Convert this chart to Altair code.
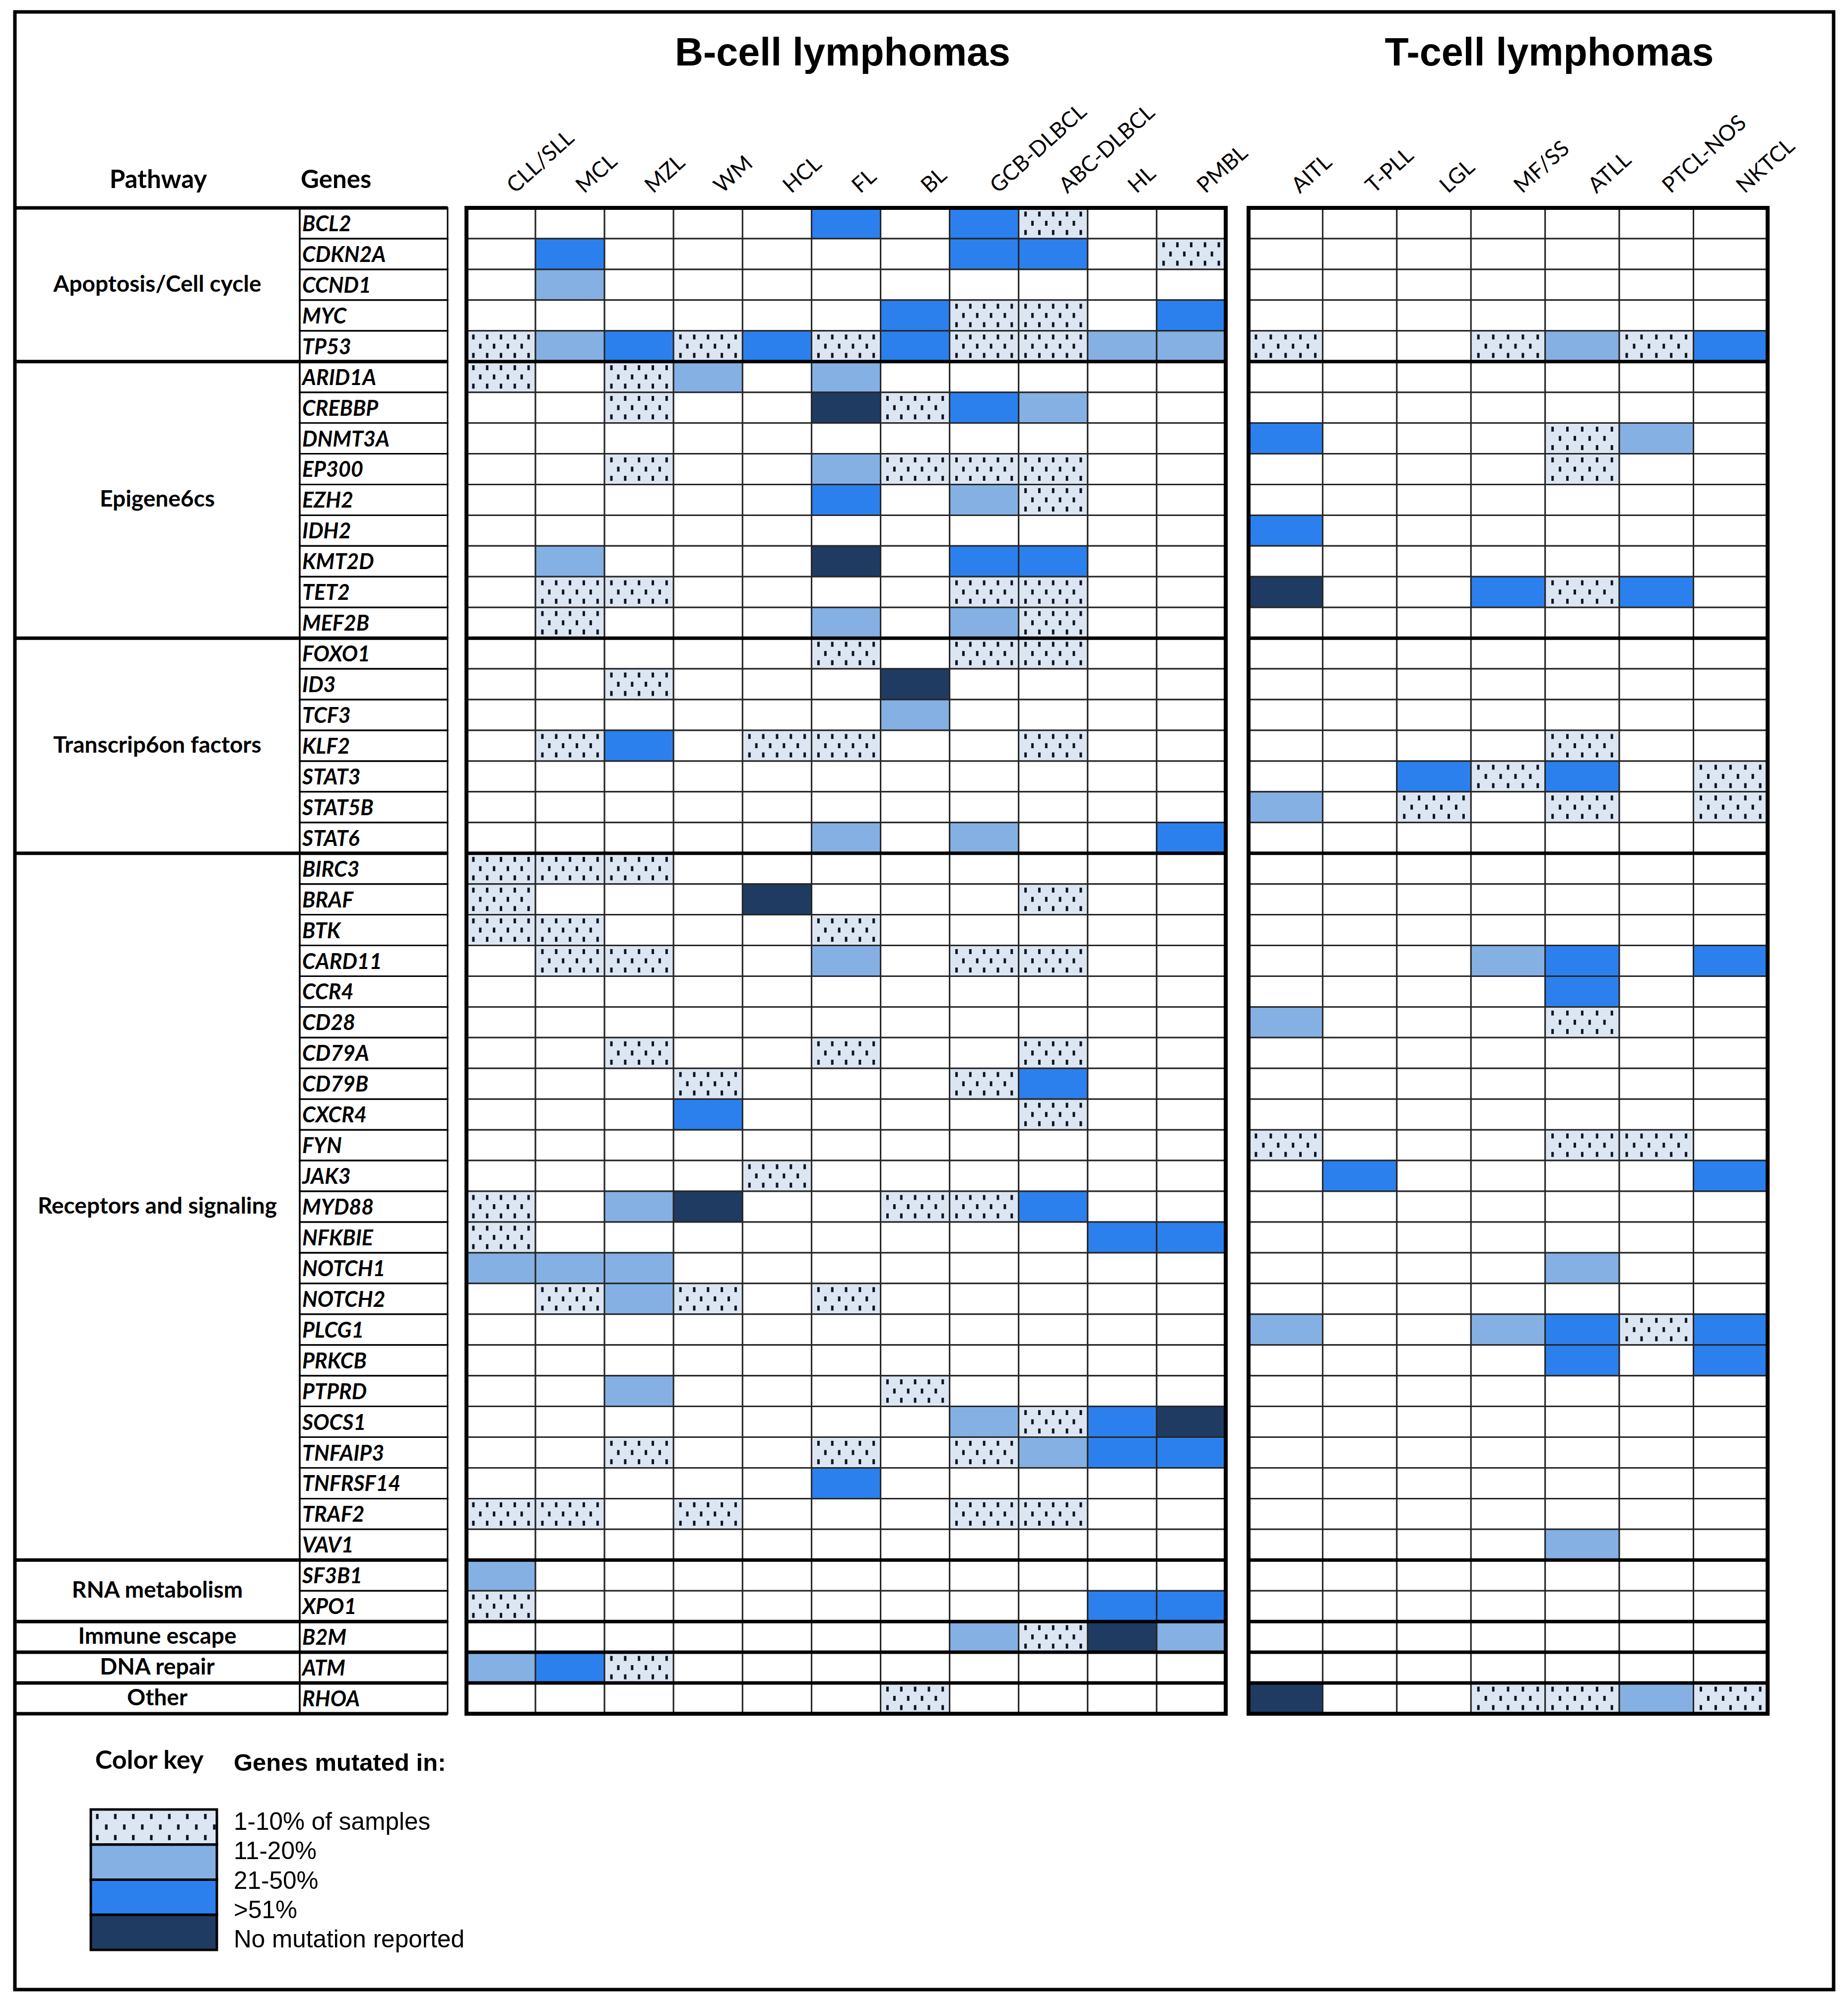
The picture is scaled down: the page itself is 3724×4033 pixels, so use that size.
import altair as alt
import pandas as pd

# ---------------- data ----------------
B_TYPES = ["CLL/SLL", "MCL", "MZL", "WM", "HCL", "FL", "BL", "GCB-DLBCL", "ABC-DLBCL", "HL", "PMBL"]
T_TYPES = ["AITL", "T-PLL", "LGL", "MF/SS", "ATLL", "PTCL-NOS", "NKTCL"]

PATHWAYS = ["Apoptosis/Cell cycle", "Epigene6cs", "Transcrip6on factors", "Receptors and signaling",
            "RNA metabolism", "Immune escape", "DNA repair", "Other"]
PATHWAY_SIZES = [5, 9, 7, 23, 2, 1, 1, 1]

GENES = ["BCL2", "CDKN2A", "CCND1", "MYC", "TP53",
         "ARID1A", "CREBBP", "DNMT3A", "EP300", "EZH2", "IDH2", "KMT2D", "TET2", "MEF2B",
         "FOXO1", "ID3", "TCF3", "KLF2", "STAT3", "STAT5B", "STAT6",
         "BIRC3", "BRAF", "BTK", "CARD11", "CCR4", "CD28", "CD79A", "CD79B", "CXCR4", "FYN", "JAK3",
         "MYD88", "NFKBIE", "NOTCH1", "NOTCH2", "PLCG1", "PRKCB", "PTPRD", "SOCS1", "TNFAIP3",
         "TNFRSF14", "TRAF2", "VAV1",
         "SF3B1", "XPO1", "B2M", "ATM", "RHOA"]

# level per gene (row) and lymphoma (column): 0 none, 1 = 1-10%, 2 = 11-20%, 3 = 21-50%, 4 = >51%
B_LEVELS = ["00000303100", "03000003301", "02000000000", "00000031103", "12313131122",
            "10120200000", "00100413200", "00000000000", "00100211100", "00000302100",
            "00000000000", "02000403300", "01100001100", "01000202100",
            "00000101100", "00100040000", "00000020000", "01301100100", "00000000000",
            "00000000000", "00000202003",
            "11100000000", "10004000100", "11000100000", "01100201100", "00000000000",
            "00000000000", "00100100100", "00010001300", "00030000100", "00000000000",
            "00001000000", "10240011300", "10000000033", "22200000000", "01210100000",
            "00000000000", "00000000000", "00200010000", "00000002134", "00100101233",
            "00000300000", "11010001100", "00000000000",
            "20000000000", "10000000033", "00000002142", "23100000000", "00000010000"]
T_LEVELS = ["0000000", "0000000", "0000000", "0000000", "1001213",
            "0000000", "0000000", "3000120", "0000100", "0000000", "3000000", "0000000",
            "4003130", "0000000",
            "0000000", "0000000", "0000000", "0000100", "0031301", "2010101", "0000000",
            "0000000", "0000000", "0000000", "0002303", "0000300", "2000100", "0000000",
            "0000000", "0000000", "1000110", "0300003", "0000000", "0000000", "0000200",
            "0000000", "2002313", "0000303", "0000000", "0000000", "0000000", "0000000",
            "0000000", "0000200",
            "0000000", "0000000", "0000000", "0000000", "4001121"]

LEVEL_LABELS = ["1-10% of samples", "11-20%", "21-50%", ">51%", "No mutation reported"]
LEVEL_COLORS = ["#ffffff", "#dce6f2", "#85b0e3", "#2c80ee", "#1f3b62"]

# ---------------- layout (view pixels inside the outer frame) ----------------
NROW = len(GENES)
ROW_TOP, ROW_BOT = 395, 3430
B_RANGE = [910, 2440]
T_RANGE = [2486, 3532]
PATH_L, PATH_R, GENE_R = 0, 574, 872
DOT = "M-0.5,-1L0.5,-1L0.5,1L-0.5,1Z"
DOT_COLOR = "#0d1320"

group_starts = [0]
for s in PATHWAY_SIZES:
    group_starts.append(group_starts[-1] + s)

ys = alt.Scale(domain=[0, NROW], range=[ROW_TOP, ROW_BOT], nice=False, zero=False)
fill_scale = alt.Scale(domain=[0, 1, 2, 3, 4], range=LEVEL_COLORS)


def dot_pattern(ncols_even, ncols_odd):
    pts = []
    for k, fy in enumerate([0.2, 0.5, 0.8]):
        n = ncols_even if k % 2 == 0 else ncols_odd
        off = 0.5 if k % 2 == 0 else 1.0
        step = 1.0 / (ncols_even)
        for m in range(n):
            pts.append(((m + off) * step, fy))
    return pts


def grid_panel(types, levels, xr, title, title_dx):
    n = len(types)
    xs = alt.Scale(domain=[0, n], range=xr, nice=False, zero=False)
    cells, dots = [], []
    pat = dot_pattern(5, 4)
    for i in range(NROW):
        for j in range(n):
            lv = int(levels[i][j])
            cells.append({"c0": j, "c1": j + 1, "r0": i, "r1": i + 1, "lvl": lv})
            if lv == 1:
                for fx, fy in pat:
                    dots.append({"dx": j + fx, "dy": i + fy})
    rects = alt.Chart(pd.DataFrame(cells)).mark_rect(stroke="#262626", strokeWidth=3).encode(
        x=alt.X("c0:Q", scale=xs, axis=None), x2="c1:Q",
        y=alt.Y("r0:Q", scale=ys, axis=None), y2="r1:Q",
        fill=alt.Fill("lvl:O", scale=fill_scale, legend=None))
    dotl = alt.Chart(pd.DataFrame(dots)).mark_point(
        shape=DOT, filled=True, size=100, color=DOT_COLOR, opacity=1, strokeWidth=0).encode(
        x=alt.X("dx:Q", scale=xs, axis=None), y=alt.Y("dy:Q", scale=ys, axis=None))
    rules = alt.Chart(pd.DataFrame({"r": group_starts[1:-1], "a": 0, "b": n})).mark_rule(
        color="black", strokeWidth=7).encode(
        x=alt.X("a:Q", scale=xs, axis=None), x2="b:Q", y=alt.Y("r:Q", scale=ys, axis=None))
    border = alt.Chart(pd.DataFrame([{"a": 0, "b": n, "r0": 0, "r1": NROW}])).mark_rect(
        fillOpacity=0, stroke="black", strokeWidth=8).encode(
        x=alt.X("a:Q", scale=xs, axis=None), x2="b:Q",
        y=alt.Y("r0:Q", scale=ys, axis=None), y2="r1:Q")
    labels = alt.Chart(pd.DataFrame({"name": types, "c": [j + 0.5 for j in range(n)]})).mark_text(
        angle=318, align="left", baseline="middle", font="Lato", fontSize=44, color="black",
        dx=15, dy=13).encode(
        x=alt.X("c:Q", scale=xs, axis=None), y=alt.value(ROW_TOP - 37), text="name:N")
    ttl = alt.Chart(pd.DataFrame([{"t": title, "c": n / 2}])).mark_text(
        font="Liberation Sans", fontSize=79, fontWeight="bold", baseline="middle",
        dx=title_dx, color="black").encode(
        x=alt.X("c:Q", scale=xs, axis=None), y=alt.value(84), text="t:N")
    return alt.layer(rects, dotl, rules, border, labels, ttl)


gridB = grid_panel(B_TYPES, B_LEVELS, B_RANGE, "B-cell lymphomas", -7)
gridT = grid_panel(T_TYPES, T_LEVELS, T_RANGE, "T-cell lymphomas", 83)

# ---------------- left table ----------------
gene_df = pd.DataFrame({"gene": GENES, "r0": list(range(NROW)), "r1": [i + 1 for i in range(NROW)],
                        "rm": [i + 0.5 for i in range(NROW)]})
path_df = pd.DataFrame({"p": PATHWAYS, "r0": group_starts[:-1], "r1": group_starts[1:],
                        "rm": [(a + b) / 2 for a, b in zip(group_starts[:-1], group_starts[1:])]})

gene_boxes = alt.Chart(gene_df).mark_rect(fillOpacity=0, stroke="black", strokeWidth=3).encode(
    x=alt.value(PATH_R), x2=alt.value(GENE_R),
    y=alt.Y("r0:Q", scale=ys, axis=None), y2="r1:Q")
path_boxes = alt.Chart(path_df).mark_rect(fillOpacity=0, stroke="black", strokeWidth=3).encode(
    x=alt.value(PATH_L), x2=alt.value(PATH_R),
    y=alt.Y("r0:Q", scale=ys, axis=None), y2="r1:Q")
table_rules = alt.Chart(pd.DataFrame({"r": group_starts})).mark_rule(
    color="black", strokeWidth=7).encode(
    x=alt.value(PATH_L), x2=alt.value(GENE_R), y=alt.Y("r:Q", scale=ys, axis=None))
gene_text = alt.Chart(gene_df).mark_text(
    align="left", baseline="middle", font="Lato", fontSize=43, fontWeight="bold",
    fontStyle="italic", color="black", dy=3).encode(
    x=alt.value(PATH_R + 5), y=alt.Y("rm:Q", scale=ys, axis=None), text="gene:N")
path_text = alt.Chart(path_df).mark_text(
    align="center", baseline="middle", font="Lato", fontSize=46, fontWeight="bold",
    color="black").encode(
    x=alt.value((PATH_L + PATH_R) / 2), y=alt.Y("rm:Q", scale=ys, axis=None), text="p:N")
table = alt.layer(gene_boxes, path_boxes, table_rules, gene_text, path_text)

hdr_path = alt.Chart(pd.DataFrame([{"t": "Pathway"}])).mark_text(
    align="center", baseline="middle", font="Lato", fontSize=51, fontWeight="bold",
    color="black").encode(x=alt.value(289), y=alt.value(340), text="t:N")
hdr_gene = alt.Chart(pd.DataFrame([{"t": "Genes"}])).mark_text(
    align="left", baseline="middle", font="Lato", fontSize=51, fontWeight="bold",
    color="black").encode(x=alt.value(576), y=alt.value(340), text="t:N")

# ---------------- legend ----------------
lx = alt.Scale(domain=[0, 1], range=[153, 407], nice=False, zero=False)
ly = alt.Scale(domain=[0, 4], range=[3623, 3906], nice=False, zero=False)
sw_df = pd.DataFrame({"k0": [0, 1, 2, 3], "k1": [1, 2, 3, 4], "lvl": [1, 2, 3, 4], "a": 0, "b": 1})
sw = alt.Chart(sw_df).mark_rect(stroke="black", strokeWidth=5).encode(
    x=alt.X("a:Q", scale=lx, axis=None), x2="b:Q",
    y=alt.Y("k0:Q", scale=ly, axis=None), y2="k1:Q",
    fill=alt.Fill("lvl:O", scale=fill_scale, legend=None))
lpat = dot_pattern(7, 7)
ldots = alt.Chart(pd.DataFrame({"dx": [p[0] - 0.02 for p in lpat], "dy": [p[1] for p in lpat]})).mark_point(
    shape=DOT, filled=True, size=110, color=DOT_COLOR, opacity=1, strokeWidth=0).encode(
    x=alt.X("dx:Q", scale=lx, axis=None), y=alt.Y("dy:Q", scale=ly, axis=None))
legend_sw = alt.layer(sw, ldots)

lty = alt.Scale(domain=[0, 4], range=[3649, 3886], nice=False, zero=False)
legend_lab = alt.Chart(pd.DataFrame({"t": LEVEL_LABELS, "k": [0, 1, 2, 3, 4]})).mark_text(
    align="left", baseline="middle", font="Liberation Sans", fontSize=49.5, color="black").encode(
    x=alt.value(441), y=alt.Y("k:Q", scale=lty, axis=None), text="t:N")

key_title = alt.Chart(pd.DataFrame([{"t": "Color key"}])).mark_text(
    align="center", baseline="middle", font="Lato", fontSize=52, fontWeight="bold",
    color="black").encode(x=alt.value(271), y=alt.value(3525), text="t:N")
gm_title = alt.Chart(pd.DataFrame([{"t": "Genes mutated in:"}])).mark_text(
    align="left", baseline="middle", font="Liberation Sans", fontSize=49, fontWeight="bold",
    color="black").encode(x=alt.value(441), y=alt.value(3530), text="t:N")

chart = alt.layer(
    table, hdr_path, hdr_gene, gridB, gridT, legend_sw, legend_lab, key_title, gm_title
).resolve_scale(
    x="independent", y="independent"
).properties(
    width=3665, height=3986,
    autosize=alt.AutoSizeParams(type="none"),
    padding={"left": 22, "top": 16, "right": 21, "bottom": 15},
    background="white"
).configure_view(stroke="black", strokeWidth=7)

chart.save("out.html", embed_options={"renderer": "svg", "actions": False})
